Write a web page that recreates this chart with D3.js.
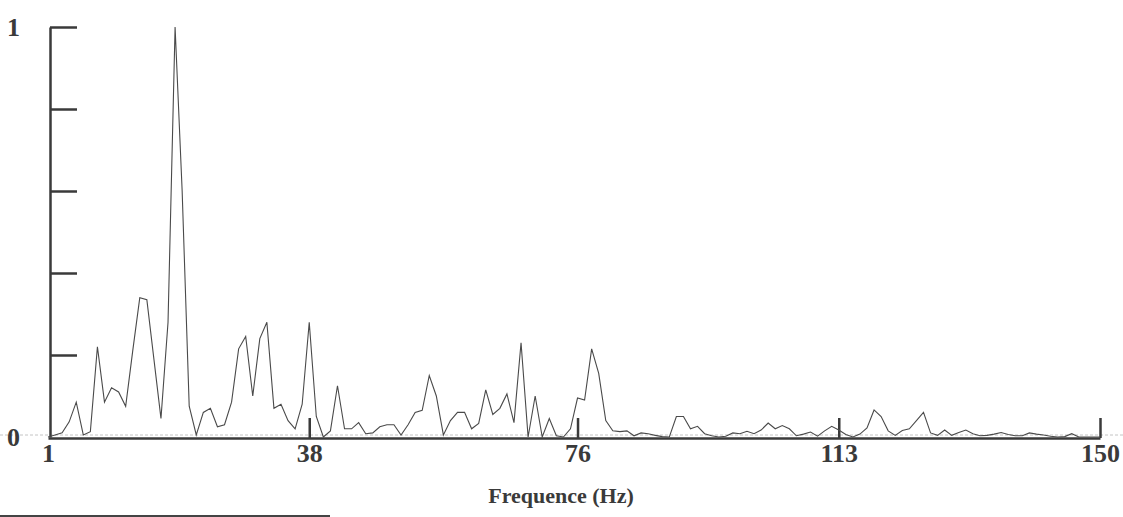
<!DOCTYPE html>
<html>
<head>
<meta charset="utf-8">
<script src="https://cdn.jsdelivr.net/npm/d3@7"></script>
<style>
  html, body { margin: 0; padding: 0; background: #fff; }
  svg { display: block; }
  text { font-family: "Liberation Serif", "DejaVu Serif", serif; font-weight: bold; fill: #3a3a3a; }
</style>
</head>
<body>
<svg id="chart" width="1123" height="517"></svg>
<script>
// Frequency bins (Hz) 1..150 and normalised spectrum amplitude
const frequencies = d3.range(1, 151);
const amplitudes = [
  0.0, 0.005, 0.01, 0.037, 0.085, 0.005, 0.013, 0.22, 0.085, 0.12,
  0.11, 0.075, 0.21, 0.34, 0.335, 0.19, 0.045, 0.28, 1.0, 0.6,
  0.075, 0.005, 0.06, 0.07, 0.025, 0.03, 0.085, 0.215, 0.245, 0.1,
  0.24, 0.28, 0.07, 0.08, 0.04, 0.02, 0.08, 0.28, 0.05, 0.0,
  0.015, 0.125, 0.02, 0.02, 0.035, 0.008, 0.01, 0.025, 0.03, 0.03,
  0.005, 0.03, 0.06, 0.065, 0.15, 0.1, 0.005, 0.04, 0.06, 0.06,
  0.02, 0.033, 0.115, 0.055, 0.07, 0.105, 0.035, 0.23, 0.0, 0.1,
  0.0, 0.045, 0.003, 0.0, 0.02, 0.095, 0.09, 0.215, 0.155, 0.04,
  0.015, 0.013, 0.015, 0.003, 0.01, 0.008, 0.004, 0.001, 0.0, 0.05,
  0.05, 0.02, 0.026, 0.008, 0.003, 0.0, 0.002, 0.01, 0.008, 0.014,
  0.008, 0.017, 0.034, 0.02, 0.028, 0.02, 0.003, 0.007, 0.012, 0.002,
  0.015, 0.026, 0.017, 0.006, 0.0, 0.007, 0.022, 0.066, 0.05, 0.015,
  0.004, 0.016, 0.02, 0.04, 0.06, 0.01, 0.004, 0.017, 0.004, 0.011,
  0.017, 0.008, 0.003, 0.004, 0.007, 0.011, 0.006, 0.003, 0.003, 0.01,
  0.007, 0.005, 0.002, 0.0, 0.001, 0.008, 0.0, 0.0, 0.0, 0.0
];
const xTickValues = [1, 38, 76, 113, 150];
const xUpTicks = [38, 76, 113, 150];
const yTickValues = [0.2, 0.4, 0.6, 0.8, 1];
const yLabelValues = [0, 1];
const xTitle = "Frequence (Hz)";

const svg = d3.select("#chart");
const x = d3.scaleLinear().domain([1, 150]).range([48, 1100]);
const y = d3.scaleLinear().domain([0, 1]).range([437, 27]);
const axisColor = "#3a3a3a";

// faint scan reference line at zero
svg.append("line")
  .attr("x1", 0).attr("x2", 1123)
  .attr("y1", y(0) - 2).attr("y2", y(0) - 2)
  .attr("stroke", "#c4c4c4").attr("stroke-width", 1)
  .attr("stroke-dasharray", "3,2");

// y axis: ticks pointing inwards (to the right)
const gy = svg.append("g").attr("transform", `translate(${x(1) + 2},0)`)
  .call(d3.axisRight(y).tickValues(yTickValues).tickSize(27).tickSizeOuter(0).tickFormat(""));
gy.select(".domain").attr("stroke", axisColor).attr("stroke-width", 2.5);
gy.selectAll(".tick line").attr("stroke", axisColor).attr("stroke-width", 2.5);

// y labels
const gyl = svg.append("g").attr("transform", `translate(${x(1) + 2},0)`)
  .call(d3.axisLeft(y).tickValues(yLabelValues).tickSize(0).tickPadding(30).tickFormat(d3.format("d")));
gyl.select(".domain").remove();
gyl.selectAll("text").style("font-size", "26px").attr("fill", axisColor);

// x axis with upward ticks
const gx = svg.append("g").attr("transform", `translate(0,${y(0) + 1})`)
  .call(d3.axisTop(x).tickValues(xUpTicks).tickSize(20).tickSizeOuter(0).tickFormat(""));
gx.select(".domain").attr("stroke", axisColor).attr("stroke-width", 2.5);
gx.selectAll(".tick line").attr("stroke", axisColor).attr("stroke-width", 2.5);

// x labels
const gxl = svg.append("g").attr("transform", `translate(0,${y(0) + 1})`)
  .call(d3.axisBottom(x).tickValues(xTickValues).tickSize(0).tickPadding(6).tickFormat(d3.format("d")));
gxl.select(".domain").remove();
gxl.selectAll("text").style("font-size", "26px").attr("fill", axisColor);

// x title
svg.append("text")
  .attr("x", 561).attr("y", 503)
  .attr("text-anchor", "middle")
  .style("font-size", "22px")
  .text(xTitle);

// spectrum line
const line = d3.line()
  .x((d, i) => x(frequencies[i]))
  .y(d => y(d));
svg.append("path")
  .datum(amplitudes)
  .attr("fill", "none")
  .attr("stroke", "#4a4a4a")
  .attr("stroke-width", 1.1)
  .attr("stroke-linejoin", "miter")
  .attr("d", line);

// scan edge line at bottom left
svg.append("line")
  .attr("x1", 0).attr("x2", 330)
  .attr("y1", 516).attr("y2", 516)
  .attr("stroke", "#444").attr("stroke-width", 2);
</script>
</body>
</html>
